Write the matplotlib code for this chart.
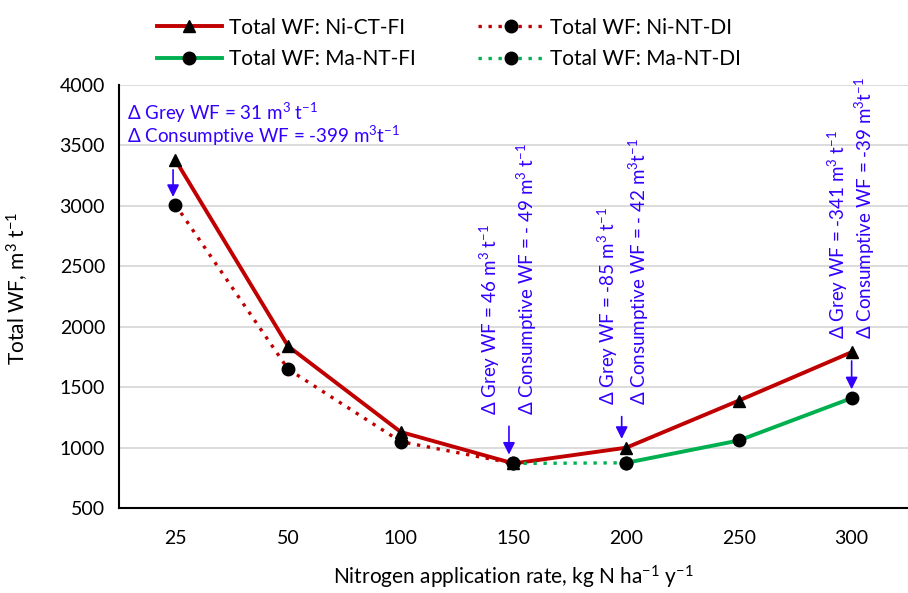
import matplotlib
matplotlib.use("Agg")
import matplotlib.pyplot as plt
import numpy as np

plt.rcParams['font.family'] = ['Lato', 'DejaVu Sans']
plt.rcParams['mathtext.fontset'] = 'custom'
plt.rcParams['mathtext.rm'] = 'Lato'
plt.rcParams['mathtext.it'] = 'Lato'

rates = ['25', '50', '100', '150', '200', '250', '300']

# values (m3 t-1)
ni_ct_fi = [3380, 1840, 1130, 870, 1000, 1390, 1790]
ni_nt_di = [3010, 1650, 1050, 870]            # 25..150
ma_nt_di = [870, 875]                         # 150..200
ma_nt_fi = [875, 1060, 1410]                  # 200..300

red = '#C00000'
green = '#00B050'
blue = '#3300FF'

fig = plt.figure(figsize=(9.08, 5.93), dpi=100)
ax = fig.add_axes([0.131, 0.143, 0.869, 0.714])

x = np.arange(len(rates))
l1, = ax.plot(x, ni_ct_fi, color=red, lw=2.8, marker='^', mfc='black', mec='black', ms=9,
              label='Total WF: Ni-CT-FI', zorder=3)
l2, = ax.plot(x[:4], ni_nt_di, color=red, lw=2.4, ls=(0, (1, 2)), marker='o', mfc='black',
              mec='black', ms=9, label='Total WF: Ni-NT-DI', zorder=3)
l4, = ax.plot(x[3:5], ma_nt_di, color=green, lw=2.4, ls=(0, (1, 2)), marker='o', mfc='black',
              mec='black', ms=9, label='Total WF: Ma-NT-DI', zorder=3)
l3, = ax.plot(x[4:], ma_nt_fi, color=green, lw=2.8, marker='o', mfc='black', mec='black', ms=9,
              label='Total WF: Ma-NT-FI', zorder=3)

ax.set_xlim(-0.5, 6.5)
ax.set_ylim(500, 4000)
ax.set_yticks(range(500, 4001, 500))
ax.set_xticks(x)
ax.set_xticklabels(rates)
ax.tick_params(length=0, labelsize=14)
ax.tick_params(axis='x', pad=16)
ax.tick_params(axis='y', pad=10)
ax.grid(axis='y', color='#D9D9D9', lw=1.3)
ax.set_axisbelow(True)
for s in ['top', 'right']:
    ax.spines[s].set_visible(False)
for s in ['left', 'bottom']:
    ax.spines[s].set_linewidth(1.5)

ax.set_xlabel('Nitrogen application rate, kg N ha$^{-1}$ y$^{-1}$', fontsize=15, labelpad=12)
ax.set_ylabel('Total WF, m$^{3}$ t$^{-1}$', fontsize=15)
ax.yaxis.set_label_coords(-0.112, 0.52)

fig.legend(handles=[l1, l3, l2, l4], ncol=2, loc='upper left', bbox_to_anchor=(0.157, 0.995),
           frameon=False, fontsize=15, handlelength=3.1, handletextpad=0.35,
           columnspacing=3.0, labelspacing=0.55, borderpad=0.2)

# arrows between the systems
arrow = dict(arrowstyle='-|>', color=blue, lw=1.2, mutation_scale=18)
ax.annotate('', xy=(-0.02, 3050), xytext=(-0.02, 3320), arrowprops=arrow)
ax.annotate('', xy=(-0.04 + 3, 920), xytext=(-0.04 + 3, 1200), arrowprops=arrow)
ax.annotate('', xy=(-0.04 + 4, 1050), xytext=(-0.04 + 4, 1280), arrowprops=arrow)
ax.annotate('', xy=(6.0, 1460), xytext=(6.0, 1740), arrowprops=arrow)

fs = 13.5
ax.text(-0.43, 3770, 'Δ Grey WF = 31 m$^{3}$ t$^{-1}$', color=blue, fontsize=fs, va='center')
ax.text(-0.43, 3575, 'Δ Consumptive WF = -399 m$^{3}$t$^{-1}$', color=blue, fontsize=fs, va='center')

ax.text(3 - 0.21, 1270, 'Δ Grey WF = 46 m$^{3}$ t$^{-1}$', color=blue, fontsize=fs,
        rotation=90, ha='center', va='bottom')
ax.text(3 + 0.12, 1270, 'Δ Consumptive WF = - 49 m$^{3}$ t$^{-1}$', color=blue, fontsize=fs,
        rotation=90, ha='center', va='bottom')
ax.text(4 - 0.16, 1350, 'Δ Grey WF = -85 m$^{3}$ t$^{-1}$', color=blue, fontsize=fs,
        rotation=90, ha='center', va='bottom')
ax.text(4 + 0.11, 1350, 'Δ Consumptive WF = - 42 m$^{3}$t$^{-1}$', color=blue, fontsize=fs,
        rotation=90, ha='center', va='bottom')
ax.text(6 - 0.12, 1900, 'Δ Grey WF = -341 m$^{3}$ t$^{-1}$', color=blue, fontsize=fs,
        rotation=90, ha='center', va='bottom')
ax.text(6 + 0.12, 1900, 'Δ Consumptive WF = -39 m$^{3}$t$^{-1}$', color=blue, fontsize=fs,
        rotation=90, ha='center', va='bottom')

fig.savefig('out.png', dpi=100)
